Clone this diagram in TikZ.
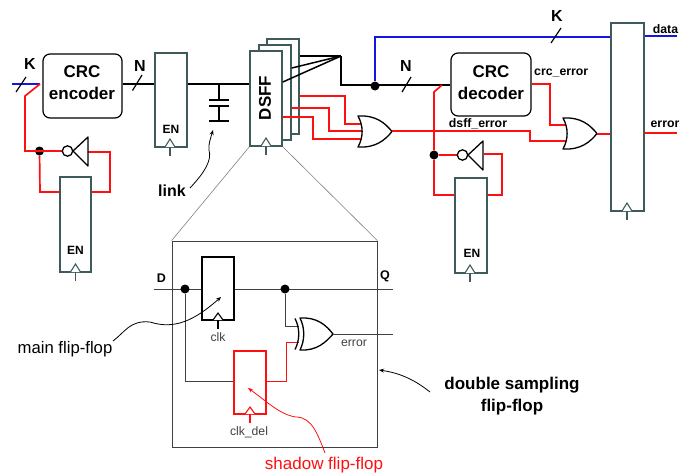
\documentclass[tikz,border=0pt]{standalone}
\usepackage{fontspec}
\setmainfont{Liberation Sans}
\usetikzlibrary{arrows.meta}
\definecolor{regc}{HTML}{3F5A5A}
\definecolor{bluew}{HTML}{1414E6}
\definecolor{redw}{HTML}{FF0F0F}
\definecolor{inner}{HTML}{404040}
\tikzset{
  x=1pt,y=-1pt,
  regbox/.style={draw=regc,line width=1.6pt,fill=white,inner sep=0pt,minimum width=32pt},
  ckl/.style={draw=regc,line width=1.1pt,fill=white},
  logicbox/.style={draw=black,rounded corners=7pt,line width=1.2pt,fill=white,inner sep=0pt,minimum width=79pt,minimum height=64pt},
  logictext/.style={align=center,font=\fontsize{17}{22}\selectfont\bfseries,inner sep=0pt},
  wk/.style={draw=black,line width=1.5pt},
  wr/.style={draw=redw,line width=1.7pt},
  wb/.style={draw=bluew,line width=1.6pt},
  gate/.style={draw=black,line width=1.3pt,fill=white,line join=round},
  smalldot/.style={circle,fill=black,inner sep=0pt,minimum size=9pt},
  tick/.style={draw=black,line width=1.2pt},
  lab/.style={inner sep=0pt,font=\fontsize{16}{18}\selectfont\bfseries},
  en/.style={inner sep=0pt,font=\fontsize{12}{14}\selectfont\bfseries},
  sig/.style={inner sep=0pt,font=\fontsize{12.3}{14}\selectfont\bfseries},
  thin lab/.style={inner sep=0pt,text=inner,font=\fontsize{12.2}{14}\selectfont},
  cap lab/.style={inner sep=0pt,font=\fontsize{16.7}{19}\selectfont},
  zoomline/.style={draw=gray,line width=0.6pt},
  note/.style={draw=black,line width=0.8pt,-{Stealth[length=5pt,width=4pt]}},
  noter/.style={draw=redw,line width=0.8pt,-{Stealth[length=5pt,width=4pt]}},
  iw/.style={draw=inner,line width=1pt}
}
\newcommand{\orgate}[1]{%
  \begin{scope}[shift={#1}]
  \path[gate] (0,0) .. controls (18,-1) and (27,7) .. (34,15.5) .. controls (27,24) and (18,32) .. (0,31) .. controls (5.5,21) and (5.5,10) .. (0,0) -- cycle;
  \end{scope}}
\newcommand{\invgate}[1]{%
  \begin{scope}[shift={#1}]
  \path[gate] (0,0) -- (15,-14) -- (15,15) -- cycle;
  \draw[gate] (-5.5,0) circle (5.2);
  \end{scope}}
\newcommand{\clock}[2]{%
  \path[ckl] (#1,#2) ++(-5,0) -- ++(5,-8) -- ++(5,8);
  \draw[ckl] (#1,#2) -- ++(0,9);}
\begin{document}
\begin{tikzpicture}
\useasboundingbox (0,0) rectangle (689,475);

% zoom lines and lower box
\coordinate (zl) at (250,146);
\coordinate (zr) at (282,146);
\node[draw=inner,line width=0.8pt,inner sep=0pt,minimum width=205pt,minimum height=206pt] (ff) at (274.5,344) {};
\draw[zoomline] (zl) -- (ff.north west);
\draw[zoomline] (zr) -- (ff.north east);

% stacked DSFF
\node[regbox,minimum height=95pt] (ds3) at (283,86.5) {};
\node[regbox,minimum height=95pt] (ds2) at (275,92.5) {};
\node[regbox,minimum height=95pt] (ds1) at (266,98.5) {};
\node[rotate=90,lab,font=\fontsize{17}{18}\selectfont\bfseries] (dsl) at (265,98) {DSFF};
\clock{266}{146}

% left part
\node[logicbox] (enc) at (82.5,86) {};
\node[logictext] (enct) at (82,83) {CRC\\encoder};
\node[regbox,minimum height=94pt] (r1) at (171,100) {};
\node[en] (en1) at (171,129) {EN};
\clock{170}{147}
\node[regbox,minimum height=95pt,minimum width=31pt] (r2) at (75.5,224.5) {};
\node[en] (en2) at (75.5,250) {EN};
\clock{75.5}{272}

\coordinate (kin) at (12,84);
\coordinate (kj) at (40,84);
\coordinate (rb1) at (25,96);
\coordinate (d1c) at (25,151);
\draw[wb] (kin) -- (kj);
\draw[wk] (enc.east |- kj) -- (r1.west |- kj);
\draw[wk] (r1.east |- kj) -- (ds1.west |- kj);
\coordinate (capt) at (219,84);
\draw[wk,line width=1.6pt] (capt) -- (219,100);
\draw[wk,line width=2.2pt] (209,100) -- (229,100);
\draw[wk,line width=2.2pt] (209,106) -- (229,106);
\draw[wk,line width=1.6pt] (219,106) -- (219,121);
\draw[wk,line width=2.2pt] (209,121) -- (229,121);
\node[lab] (linkl) at (172,191) {link};
\coordinate (linka) at (190,188);
\coordinate (linkb) at (213,130);
\draw[note] (linka) .. controls (205,172) and (212,160) .. (209,150) .. controls (208,145) and (211,137) .. (linkb);

\node[smalldot] (dt1) at (39.5,151) {};
\coordinate (inv1) at (73,151);
\draw[wr] (kj) -- (rb1) -- (d1c) -- (inv1);
\draw[wr] (dt1) -- (40,192) -- (r2.west |- 0,192);
\draw[wr] (88,152) -- (110,152) -- (110,192) -- (r2.east |- 0,192);
\invgate{(73,151)}
\draw[tick] (16,92) -- (26,77);
\draw[tick] (132.5,90.5) -- (142,75);
\node[lab] (kl) at (30,64) {K};
\node[lab] (nl) at (140,66) {N};

% wires from DSFF
\coordinate (fan) at (341,56);
\coordinate (j2) at (341,85);
\node[smalldot] (dt2) at (375,86) {};
\node[logicbox,minimum width=80pt,minimum height=63pt] (dec) at (491,84.5) {};
\node[logictext] (dect) at (491,82.5) {CRC\\decoder};
\draw[wk] (ds3.east |- 0,56) -- (fan);
\draw[wk] (ds2.east |- 0,68) -- (fan);
\draw[wk] (ds1.east |- 0,82) -- (fan);
\draw[wk] (fan) -- (j2) -- (dec.west |- j2);
\node[regbox,minimum width=33pt,minimum height=188pt] (rr) at (627.5,117) {};
\clock{627}{211}
\draw[wb] (dt2) -- (375,37) -- (rr.west |- 0,37);
\draw[wb] (rr.east |- 0,36) -- (677,36);
\draw[tick] (402,92) -- (411,77);
\draw[tick] (551,43) -- (561,28);
\node[lab] (nl2) at (406,66) {N};
\node[lab] (kl2) at (557,16) {K};

% first OR
\draw[wr] (ds3.east |- 0,96) -- (345,96) -- (345,124) -- (362,124);
\draw[wr] (ds2.east |- 0,108) -- (329,108) -- (329,131) -- (363,131);
\draw[wr] (ds1.east |- 0,117) -- (313,117) -- (313,139) -- (362,139);
\orgate{(358,116)}
% second stage
\coordinate (or1o) at (392,131);
\draw[wr] (or1o) -- (530,131) -- (530,141) -- (566,141);
\draw[wr] (dec.east |- 0,84) -- (550,84) -- (550,125) -- (566,125);
\orgate{(563,118)}
\draw[wr] (597,134) -- (rr.west |- 0,134);
\draw[wr] (rr.east |- 0,133) -- (677,133);
\node[sig,anchor=west] (crc) at (534,73) {crc\_error};
\node[sig] (dsf) at (478,124) {dsff\_error};
\node[sig] (dat) at (665.5,29) {data};
\node[sig] (err) at (665,124) {error};

% decoder feedback
\node[regbox,minimum height=95pt] (r3) at (471,225.5) {};
\node[en] (en3) at (472,253) {EN};
\clock{470}{273}
\node[smalldot] (dt3) at (434,155) {};
\draw[wr] (442,85) -- (434,92) -- (dt3) -- (434,195) -- (r3.west |- 0,195);
\draw[wr] (dt3) -- (468,155);
\draw[wr] (484,154) -- (502,154) -- (502,195) -- (r3.east |- 0,195);
\invgate{(468,155)}

% inner circuit
\coordinate (din) at (154,289);
\coordinate (qout) at (393,289);
\draw[iw] (din) -- (qout);
\node[draw=black,line width=1.6pt,fill=white,inner sep=0pt,minimum width=32pt,minimum height=63pt] (mf) at (218,288.5) {};
\node[smalldot] (dd) at (185,289) {};
\node[smalldot] (dq) at (285,289) {};
\path[draw=black,line width=1.1pt,fill=white] (213,320) -- (218,313) -- (223,320);
\draw[draw=black,line width=1.1pt] (218,320) -- (218,329);
\node[thin lab] (clk) at (218,337) {clk};
\node[draw=redw,line width=1.6pt,fill=white,inner sep=0pt,minimum width=32pt,minimum height=63pt] (sf) at (250,382.5) {};
\path[draw=redw,line width=1.1pt,fill=white] (245,414) -- (250,407) -- (255,414);
\draw[draw=redw,line width=1.1pt] (250,414) -- (250,423);
\node[thin lab] (clkd) at (249,432) {clk\_del};
\draw[iw] (dd) -- (185,381) -- (sf.west |- 0,381);
\draw[iw] (dq) -- (285,326) -- (299,326);
\draw[draw=redw,line width=1pt] (sf.east |- 0,381) -- (286,381) -- (286,342) -- (299,342);
\path[gate] (300,318) .. controls (317,317) and (326,325) .. (333,334) .. controls (326,342) and (317,351) .. (300,350) .. controls (305,340) and (305,328) .. (300,318) -- cycle;
\draw[gate,fill=none] (295,318.5) .. controls (300,328) and (300,340) .. (295,349.5);
\coordinate (xo) at (333,334);
\draw[iw] (xo) -- (393,334);
\node[thin lab] (xe) at (354,343) {error};
\node[inner sep=0pt,font=\fontsize{12.5}{15}\selectfont\bfseries] (dl) at (161.5,278) {D};
\node[inner sep=0pt,font=\fontsize{12.5}{15}\selectfont\bfseries] (ql) at (385,276.5) {Q};

% annotations
\node[cap lab] (mfl) at (65,349) {main flip-flop};
\coordinate (ma) at (113,341);
\coordinate (mb) at (221,297);
\draw[note] (ma) .. controls (125,332) and (130,320) .. (150,322) .. controls (175,330) and (195,320) .. (mb);
\node[cap lab,font=\fontsize{17}{19}\selectfont,text=redw] (sfl) at (324,465) {shadow flip-flop};
\coordinate (sa) at (325,453);
\coordinate (sb) at (248,388);
\draw[noter] (sa) .. controls (318,435) and (312,417) .. (296,417) .. controls (280,415) and (265,400) .. (sb);
\node[inner sep=0pt,font=\fontsize{17}{22}\selectfont\bfseries,align=center] (dsn) at (512,396) {double sampling\\flip-flop};
\coordinate (da) at (430,392);
\coordinate (db) at (379,370);
\draw[note] (da) .. controls (415,380) and (400,373) .. (db);
\end{tikzpicture}
\end{document}
